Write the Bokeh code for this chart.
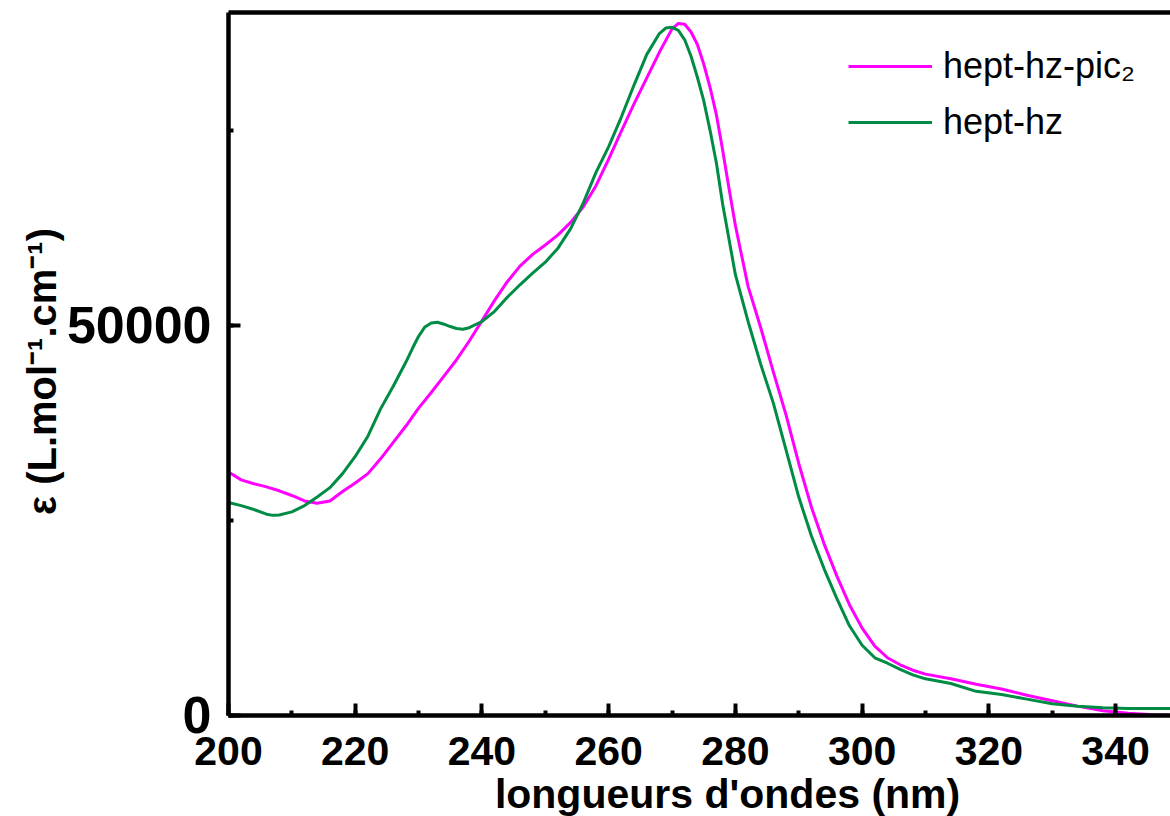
import math
from bokeh.plotting import figure
from bokeh.models import Range1d, SingleIntervalTicker, Legend, LegendItem, Label, LinearAxis
from bokeh.embed import file_html
from bokeh.resources import INLINE

# hept-hz-pic2 (magenta)
wl_pic = [200, 202, 204, 206, 208, 210, 212, 214, 216, 218, 220, 222, 224, 226, 228, 230,
          232, 234, 236, 238, 240, 242, 244, 246, 248, 250, 252, 254, 256, 258, 260, 262,
          264, 266, 268, 270, 271, 272, 273, 274, 275, 276, 277, 278, 279, 280, 282, 284,
          286, 288, 290, 292, 294, 296, 298, 300, 302, 304, 306, 308, 310, 314, 318, 322,
          326, 330, 334, 338, 342, 346, 350]
eps_pic = [31200, 30200, 29700, 29300, 28800, 28200, 27500, 27200, 27500, 28700, 29800, 31000,
           32900, 35000, 37100, 39400, 41400, 43500, 45600, 48000, 50600, 53200, 55600, 57600,
           59100, 60300, 61600, 63200, 65200, 67900, 71300, 74900, 78400, 81700, 85000, 88000,
           88700, 88600, 87600, 86000, 83500, 80500, 77000, 72400, 67500, 62800, 55000, 49700,
           44000, 38500, 32300, 26700, 22000, 17900, 14200, 11200, 8900, 7400, 6500, 5800,
           5300, 4700, 4000, 3400, 2600, 1900, 1200, 600, 300, 100, 0]

# hept-hz (green)
wl_hz = [200, 202, 204, 206, 207, 208, 210, 212, 214, 216, 218, 220, 222, 224, 226, 228,
         229, 230, 231, 232, 233, 234, 235, 236, 237, 238, 240, 242, 244, 246, 248, 250,
         252, 254, 256, 258, 260, 262, 264, 266, 268, 269, 270, 271, 272, 273, 274, 275,
         276, 277, 278, 280, 282, 284, 286, 288, 290, 292, 294, 296, 298, 300, 302, 304,
         306, 308, 310, 314, 318, 322, 326, 330, 334, 338, 342, 346, 350]
eps_hz = [27300, 26900, 26400, 25800, 25650, 25700, 26100, 26900, 28000, 29200, 31000, 33200,
          35800, 39300, 42200, 45300, 47000, 48600, 49800, 50300, 50400, 50150, 49850, 49600,
          49500, 49700, 50500, 51800, 53600, 55200, 56700, 58100, 59900, 62400, 65700, 69600,
          72900, 76700, 80800, 84700, 87400, 88100, 88200, 87800, 86600, 84500, 81800, 78800,
          75000, 70800, 65500, 56500, 50500, 45000, 40000, 34000, 28000, 23000, 18800, 15000,
          11500, 9000, 7400, 6700, 5900, 5200, 4700, 4100, 3100, 2700, 2100, 1500, 1200, 1000,
          900, 900, 900]

series_labels = ["hept-hz-pic\u2082", "hept-hz"]
series_colors = ["#FF00FF", "#008C45"]
x_ticks_interval = 20
y_ticks_interval = 50000
x_start, x_axis_end = 200, 357.5
y_start, y_end = 0, 90100
x_view = (164.015, 348.67)
y_view = (-12945, 91638)
x_title = "longueurs d'ondes (nm)"
y_title = "\u03b5 (L.mol\u207b\u00b9.cm\u207b\u00b9)"
x_title_pos = (278.76, -10125)
y_title_pos = (170.5, 44090)

FONT = "Liberation Sans"

p = figure(width=1170, height=816, output_backend="svg", toolbar_location=None,
           x_range=Range1d(*x_view), y_range=Range1d(*y_view),
           min_border_left=0, min_border_right=0, min_border_top=0, min_border_bottom=0)
p.outline_line_color = None
p.grid.visible = False
p.background_fill_color = "white"
p.border_fill_color = "white"

xa = p.below[0]
ya = p.left[0]

r1 = p.line(wl_pic, eps_pic, line_color=series_colors[0], line_width=3)
r2 = p.line(wl_hz, eps_hz, line_color=series_colors[1], line_width=3)

for ax in (xa, ya):
    ax.axis_line_width = 4.5
    ax.axis_line_color = "black"
    ax.major_tick_line_width = 4
    ax.minor_tick_line_width = 4
    ax.major_tick_in = 12
    ax.major_tick_out = 0
    ax.minor_tick_in = 5
    ax.minor_tick_out = 0
    ax.major_label_text_font = FONT
    ax.major_label_text_font_style = "bold"
    ax.major_label_text_color = "black"

xa.fixed_location = y_start
xa.bounds = (x_start, x_axis_end)
xa.ticker = SingleIntervalTicker(interval=x_ticks_interval, num_minor_ticks=2)
xa.major_label_text_font_size = "41px"
xa.major_label_standoff = 22

ya.fixed_location = x_start
ya.bounds = (y_start, y_end)
ya.ticker = SingleIntervalTicker(interval=y_ticks_interval, num_minor_ticks=2)
ya.major_label_text_font_size = "52px"
ya.major_label_standoff = 17
ya.major_label_orientation = "horizontal"

top_axis = LinearAxis(fixed_location=y_end, bounds=(x_start, x_axis_end),
                      major_tick_in=0, major_tick_out=0, minor_tick_in=0, minor_tick_out=0,
                      major_label_text_font_size="0px", major_label_text_color=None,
                      axis_line_width=4.5, axis_line_color="black")
p.add_layout(top_axis, "above")

xt = Label(x=x_title_pos[0], y=x_title_pos[1], text=x_title, text_align="center",
           text_baseline="alphabetic", text_font=FONT, text_font_style="bold",
           text_font_size="41px", text_color="black")
p.add_layout(xt)

yt = Label(x=y_title_pos[0], y=y_title_pos[1], text=y_title, text_align="center",
           text_baseline="middle", angle=math.pi / 2, text_font=FONT,
           text_font_style="bold", text_font_size="40px", text_color="black")
p.add_layout(yt)

legend = Legend(items=[LegendItem(label=series_labels[0], renderers=[r1]),
                       LegendItem(label=series_labels[1], renderers=[r2])],
                location=(848, 673))
legend.border_line_color = None
legend.background_fill_alpha = 0
legend.padding = 0
legend.margin = 0
legend.glyph_width = 84
legend.glyph_height = 28
legend.label_height = 28
legend.spacing = 14
legend.label_standoff = 11
legend.label_text_font = FONT
legend.label_text_font_size = "36px"
legend.label_text_color = "black"
p.add_layout(legend)

open("out.html", "w").write(file_html(p, INLINE))
